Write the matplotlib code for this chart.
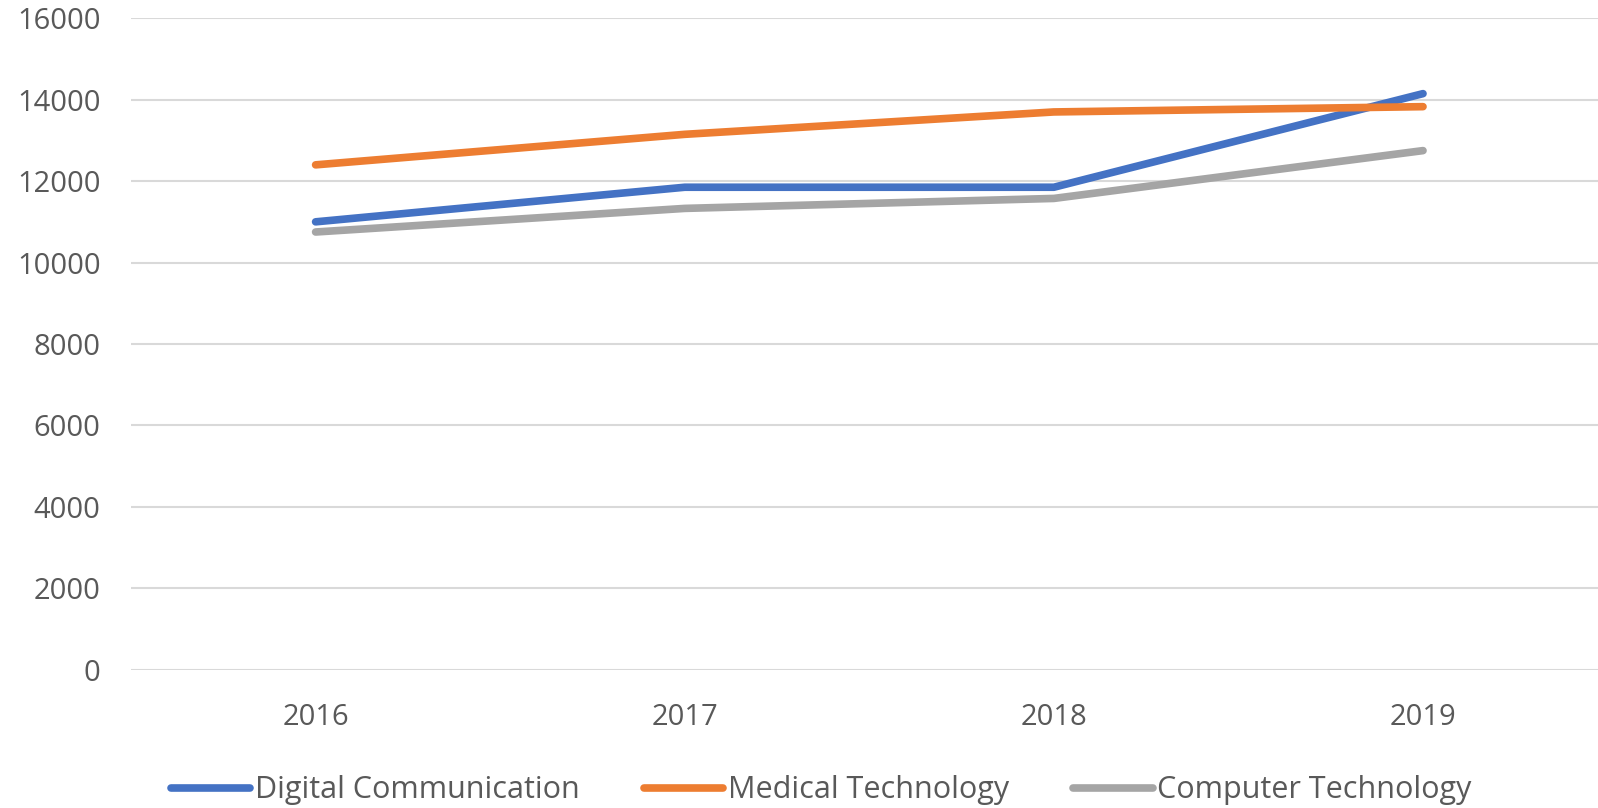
import matplotlib
matplotlib.use('Agg')
import matplotlib.pyplot as plt

# 数据
years = ['2016', '2017', '2018', '2019']
digital_comm = [11000, 11850, 11850, 14150]
medical_tech = [12400, 13150, 13700, 13830]
computer_tech = [10750, 11330, 11575, 12750]
y_ticks = [0, 2000, 4000, 6000, 8000, 10000, 12000, 14000, 16000]

plt.rcParams['font.family'] = ['Open Sans', 'DejaVu Sans']

fig = plt.figure(figsize=(15.98, 8.08), dpi=100)
ax = fig.add_axes([0.082, 0.1714, 0.924, 0.8059])

x = range(len(years))
ax.plot(x, digital_comm, color='#4472C4', linewidth=5.5, solid_capstyle='round',
        label='Digital Communication', zorder=3)
ax.plot(x, medical_tech, color='#ED7D31', linewidth=5.5, solid_capstyle='round',
        label='Medical Technology', zorder=3)
ax.plot(x, computer_tech, color='#A5A5A5', linewidth=5.5, solid_capstyle='round',
        label='Computer Technology', zorder=3)

ax.set_xlim(-0.5, 3.5)
ax.set_ylim(0, 16000)
ax.set_yticks(y_ticks)
ax.set_xticks(list(x))
ax.set_xticklabels(years)
ax.grid(axis='y', color='#D9D9D9', linewidth=1.5)
ax.set_axisbelow(True)
for s in ax.spines.values():
    s.set_visible(False)
ax.tick_params(axis='both', length=0, labelsize=21, colors='#595959')
ax.tick_params(axis='x', pad=24)
ax.tick_params(axis='y', pad=22)

fig.legend(loc='center', bbox_to_anchor=(0.514, 0.022), ncol=3, frameon=False,
           fontsize=22, handlelength=2.6, handletextpad=0.15, columnspacing=2.1,
           labelcolor='#595959')

plt.savefig('out.png', dpi=100)
plt.close()
